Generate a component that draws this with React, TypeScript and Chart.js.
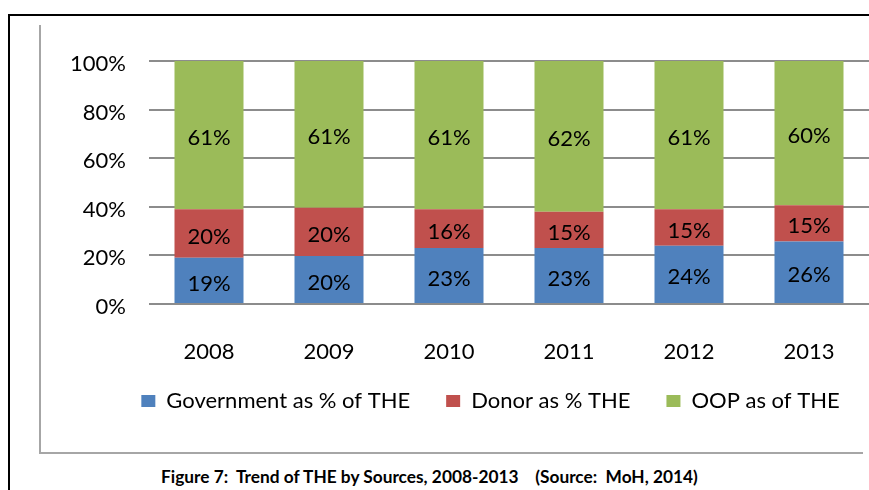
import React, { useEffect, useRef } from "react";
import { Chart, registerables } from "chart.js";

Chart.register(...registerables);

const years = ["2008", "2009", "2010", "2011", "2012", "2013"];
const seriesNames = ["Government as % of THE", "Donor as % THE", "OOP as of THE"];
const government = [19, 20, 23, 23, 24, 26];
const donor = [20, 20, 16, 15, 15, 15];
const oop = [61, 61, 61, 62, 61, 60];
const yTicks = [0, 20, 40, 60, 80, 100];
const colors = ["#4F81BD", "#C0504D", "#9BBB59"];
const caption = "Figure 7:  Trend of THE by Sources, 2008-2013    (Source:  MoH, 2014)";

const FONT = "Lato, 'Liberation Sans', sans-serif";

const seriesRaw = [government, donor, oop];
const totals = years.map((_, i) => government[i] + donor[i] + oop[i]);

const labelPlugin = {
  id: "segLabels",
  afterDatasetsDraw(chart: any) {
    const ctx = chart.ctx;
    ctx.save();
    ctx.font = `22px ${FONT}`;
    ctx.fillStyle = "#000";
    ctx.textAlign = "center";
    ctx.textBaseline = "middle";
    chart.data.datasets.forEach((ds: any, di: number) => {
      const meta = chart.getDatasetMeta(di);
      meta.data.forEach((bar: any, i: number) => {
        const cy = (bar.y + bar.base) / 2;
        ctx.fillText(`${ds.rawValues[i]}%`, bar.x, cy + 3);
      });
    });
    ctx.restore();
  },
};

// place the legend box where the reference has it
const legendPlace = {
  id: "legendPlace",
  afterLayout(chart: any) {
    const lg = chart.legend;
    if (!lg) return;
    const h = lg.height;
    lg.top = 354;
    lg.bottom = 354 + h;
    lg.left += 26;
    lg.right += 26;
  },
};

export default function App() {
  const ref = useRef<HTMLCanvasElement>(null);
  useEffect(() => {
    if (!ref.current) return;
    const chart = new Chart(ref.current, {
      type: "bar",
      data: {
        labels: years,
        datasets: seriesRaw.map((vals, si) => ({
          label: seriesNames[si],
          data: vals.map((v, i) => (v / totals[i]) * 100),
          rawValues: vals,
          backgroundColor: colors[si],
          borderWidth: 0,
          barPercentage: 0.575,
          categoryPercentage: 1,
        })) as any,
      },
      options: {
        responsive: false,
        animation: false,
        layout: { padding: { left: 60, right: 0, top: 61, bottom: 2 } },
        plugins: {
          legend: {
            position: "bottom",
            labels: {
              boxWidth: 14,
              boxHeight: 12,
              padding: 36,
              color: "#000",
              font: { family: FONT, size: 22 },
            },
          },
          tooltip: { enabled: false },
        },
        scales: {
          x: {
            stacked: true,
            grid: { display: false },
            border: { display: false },
            ticks: { color: "#000", font: { family: FONT, size: 22 }, padding: 27 },
            afterFit: (s: any) => {
              s.height = 66;
            },
          },
          y: {
            stacked: true,
            min: 0,
            max: 100,
            afterBuildTicks: (s: any) => {
              s.ticks = yTicks.map((v) => ({ value: v }));
            },
            grid: { color: "#8c8c8c", lineWidth: 2, drawTicks: false },
            border: { display: false },
            ticks: {
              color: "#000",
              font: { family: FONT, size: 22 },
              padding: 23,
              labelOffset: 3,
              callback: (v: any) => `${v}%`,
            },
            afterFit: (s: any) => {
              s.width = 89;
            },
          },
        },
      },
      plugins: [labelPlugin, legendPlace],
    });
    return () => chart.destroy();
  }, []);

  return (
    <div style={{ position: "fixed", left: 0, top: 0, width: 869, height: 490, background: "#fff", overflow: "hidden" }}>
      <div style={{ position: "absolute", left: 8, top: 14, width: 861, height: 2, background: "#000" }} />
      <div style={{ position: "absolute", left: 8, top: 14, width: 2, height: 476, background: "#000" }} />
      <div style={{ position: "absolute", left: 39, top: 25, width: 2, height: 429, background: "#a6a6a6" }} />
      <div style={{ position: "absolute", left: 39, top: 452, width: 824, height: 2, background: "#a6a6a6" }} />
      <canvas ref={ref} width={869} height={440} style={{ position: "absolute", left: 0, top: 0 }} />
      <div
        style={{
          position: "absolute",
          left: 161,
          top: 467,
          whiteSpace: "pre",
          fontFamily: FONT,
          fontWeight: 700,
          fontSize: 17.3,
          lineHeight: "20px",
          color: "#000",
        }}
      >
        {caption}
      </div>
    </div>
  );
}
